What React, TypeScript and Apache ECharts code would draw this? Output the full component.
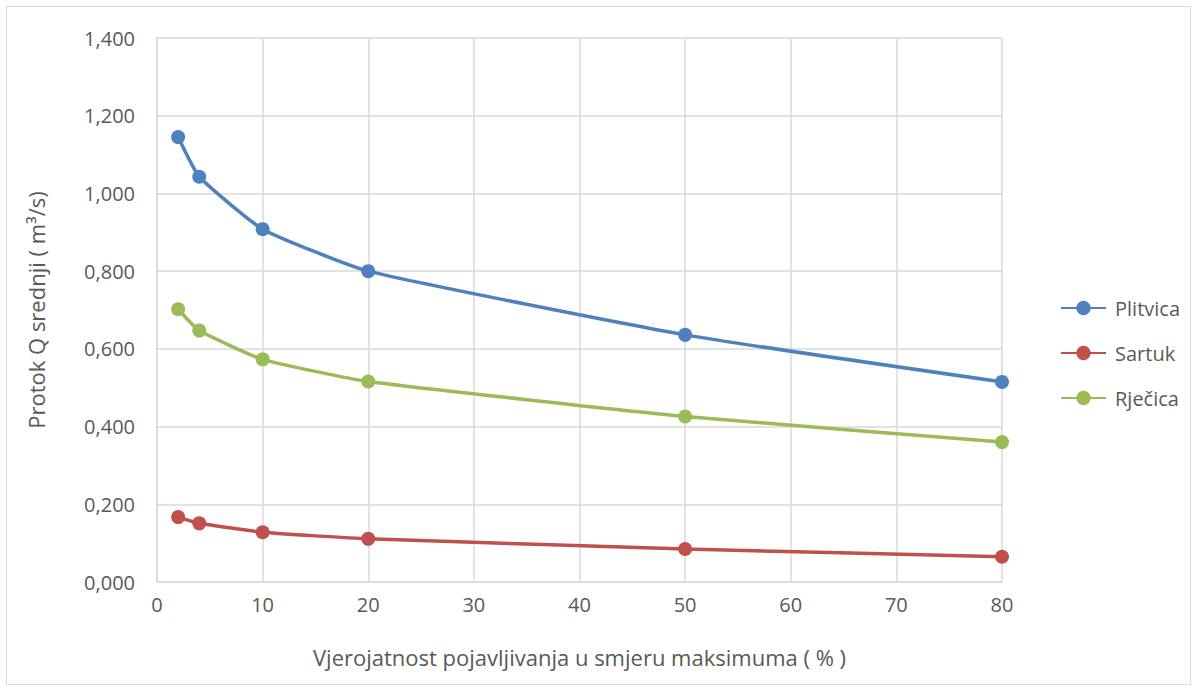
import React, { useEffect, useRef } from "react";
import * as echarts from "echarts";

const xValues = [2, 4, 10, 20, 50, 80];
const plitvica = [1.145, 1.043, 0.908, 0.8, 0.636, 0.515];
const sartuk = [0.167, 0.151, 0.128, 0.111, 0.085, 0.065];
const rjecica = [0.702, 0.647, 0.573, 0.516, 0.426, 0.36];
const seriesNames = ["Plitvica", "Sartuk", "Rječica"];
const seriesColors = ["#4f81bd", "#c0504d", "#9bbb59"];

const FONT = "Open Sans";
const TXT = "#595959";

export default function App() {
  const ref = useRef<HTMLDivElement>(null);
  useEffect(() => {
    if (!ref.current) return;
    const chart = echarts.init(ref.current, null, { renderer: "svg" });
    const values = [plitvica, sartuk, rjecica];
    chart.setOption({
      animation: false,
      backgroundColor: "#ffffff",
      textStyle: { fontFamily: FONT },
      graphic: [
        {
          type: "rect",
          shape: { x: 6.5, y: 6.5, width: 1184, height: 678 },
          style: { fill: "none", stroke: "#d9d9d9", lineWidth: 1 },
          silent: true,
        },
      ],
      grid: { left: 157, right: 196, top: 38, bottom: 110, containLabel: false },
      legend: {
        orient: "vertical",
        left: 1055,
        top: 293,
        itemGap: 25,
        itemWidth: 45,
        itemHeight: 18,
        textStyle: { color: TXT, fontSize: 20, fontFamily: FONT, padding: [0, 0, 0, 4] },
        data: seriesNames,
      },
      xAxis: {
        type: "value",
        min: 0,
        max: 80,
        interval: 10,
        name: "Vjerojatnost pojavljivanja u smjeru maksimuma ( % )",
        nameLocation: "middle",
        nameGap: 64,
        nameTextStyle: { color: TXT, fontSize: 22, fontFamily: FONT },
        axisLine: { show: true, lineStyle: { color: "#d9d9d9", width: 1.5 } },
        axisTick: { show: false },
        axisLabel: { color: TXT, fontSize: 20, margin: 12, fontFamily: FONT },
        splitLine: { show: true, lineStyle: { color: "#d9d9d9", width: 1.5 } },
      },
      yAxis: {
        type: "value",
        min: 0,
        max: 1.4,
        interval: 0.2,
        name: "Protok Q srednji ( m³/s)",
        nameLocation: "middle",
        nameGap: 110,
        nameTextStyle: { color: TXT, fontSize: 22, fontFamily: FONT },
        axisLine: { show: true, lineStyle: { color: "#d9d9d9", width: 1.5 } },
        axisTick: { show: false },
        axisLabel: {
          color: TXT,
          fontSize: 20,
          margin: 22,
          fontFamily: FONT,
          formatter: (v: number) => v.toFixed(3).replace(".", ","),
        },
        splitLine: { show: true, lineStyle: { color: "#d9d9d9", width: 1.5 } },
      },
      series: seriesNames.map((name, i) => ({
        name,
        type: "line",
        data: xValues.map((x, j) => [x, values[i][j]]),
        symbol: "circle",
        symbolSize: 14,
        smooth: 0.15,
        lineStyle: { color: seriesColors[i], width: 3.5 },
        itemStyle: { color: seriesColors[i] },
      })),
    });
    return () => chart.dispose();
  }, []);
  return (
    <div
      ref={ref}
      style={{ position: "absolute", left: 0, top: 0, width: 1198, height: 692 }}
    />
  );
}
